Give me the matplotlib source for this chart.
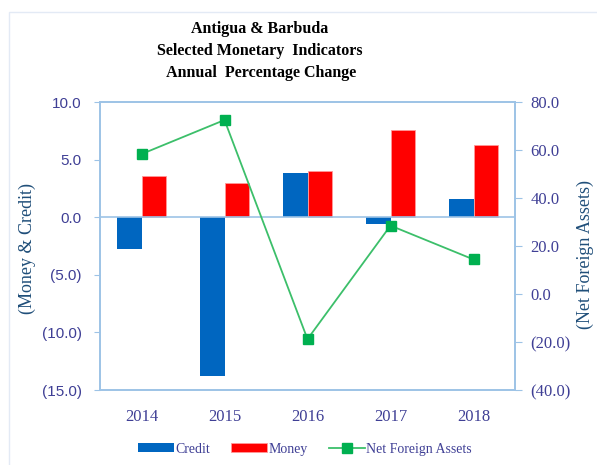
import matplotlib.pyplot as plt
import numpy as np
from matplotlib.patches import Rectangle
from matplotlib.ticker import FuncFormatter

years = ['2014', '2015', '2016', '2017', '2018']
credit = [-2.8, -13.8, 3.8, -0.6, 1.6]
money = [3.6, 3.0, 4.0, 7.6, 6.3]
nfa = [58.3, 72.5, -18.8, 28.5, 14.4]

axis_col = '#9dc3e6'
tick_col = '#3f3f95'
label_col = '#1f4e79'


def paren_fmt(v, pos):
    if v < 0:
        return '({:.1f})'.format(-v)
    return '{:.1f}'.format(v)


fig = plt.figure(figsize=(5.97, 4.65), dpi=100)
fig.patches.append(Rectangle((9 / 597, -0.1), 1.2, 1 - 12 / 465 + 0.1, transform=fig.transFigure,
                             fill=False, edgecolor='#e3eaf5', linewidth=1.0))

ax = fig.add_axes([100 / 597, 1 - 390 / 465, 415 / 597, 288 / 465])
x = np.arange(len(years))
w = 0.3
ax.bar(x - w / 2, credit, w, color='#0066c0', label='Credit', zorder=2)
ax.bar(x + w / 2, money, w, color='#ff0000', edgecolor='#ff9999', linewidth=0.6, label='Money', zorder=2)
ax.axhline(0, color=axis_col, linewidth=1.2, zorder=3)
ax.set_xlim(-0.5, len(years) - 0.5)
ax.set_ylim(-15, 10)
ax.set_yticks(np.arange(-15, 10.1, 5))
ax.yaxis.set_major_formatter(FuncFormatter(paren_fmt))
ax.set_xticks(x)
ax.set_xticklabels(years, family='Liberation Serif', fontsize=12, color=tick_col)
ax.tick_params(axis='x', length=0, pad=14)
ax.tick_params(axis='y', colors=axis_col, labelcolor=tick_col, length=4, direction='out', pad=9)
for lab in ax.get_yticklabels():
    lab.set_family('Liberation Sans')
    lab.set_fontsize(11)
for s in ax.spines.values():
    s.set_color(axis_col)
    s.set_linewidth(1.2)
ax.set_ylabel('(Money & Credit)', family='Liberation Serif', fontsize=13, color=label_col)
ax.yaxis.set_label_coords(-0.154, 0.49)

ax2 = ax.twinx()
ax2.plot(x, nfa, color='#3cbf6a', linewidth=1.3, marker='s', markersize=7,
         markerfacecolor='#00b050', markeredgecolor='#00b050', label='Net Foreign Assets', zorder=4)
ax2.set_ylim(-40, 80)
ax2.set_yticks(np.arange(-40, 80.1, 20))
ax2.yaxis.set_major_formatter(FuncFormatter(paren_fmt))
ax2.tick_params(axis='y', colors=axis_col, labelcolor=tick_col, length=5, direction='out', pad=6)
for lab in ax2.get_yticklabels():
    lab.set_family('Liberation Serif')
    lab.set_fontsize(12)
for s in ax2.spines.values():
    s.set_color(axis_col)
    s.set_linewidth(1.2)
ax2.set_ylabel('(Net Foreign Assets)', family='Liberation Serif', fontsize=13, color=label_col, rotation=90)
ax2.yaxis.set_label_coords(1.149, 0.47)

fig.text(260 / 597, 1 - 21 / 465, 'Antigua & Barbuda\nSelected Monetary  Indicators\n Annual  Percentage Change',
         ha='center', va='top', family='Liberation Serif', fontweight='bold', fontsize=11.5,
         linespacing=1.5)

h1, l1 = ax.get_legend_handles_labels()
h2, l2 = ax2.get_legend_handles_labels()
fig.legend(h1 + h2, l1 + l2, loc='center', bbox_to_anchor=(305 / 597, 1 - 449 / 465), ncol=3, frameon=False,
           prop={'family': 'Liberation Serif', 'size': 10}, labelcolor=tick_col,
           handlelength=2.6, handleheight=0.6, handletextpad=0.1, columnspacing=1.5)

fig.savefig('out.png', dpi=100)
